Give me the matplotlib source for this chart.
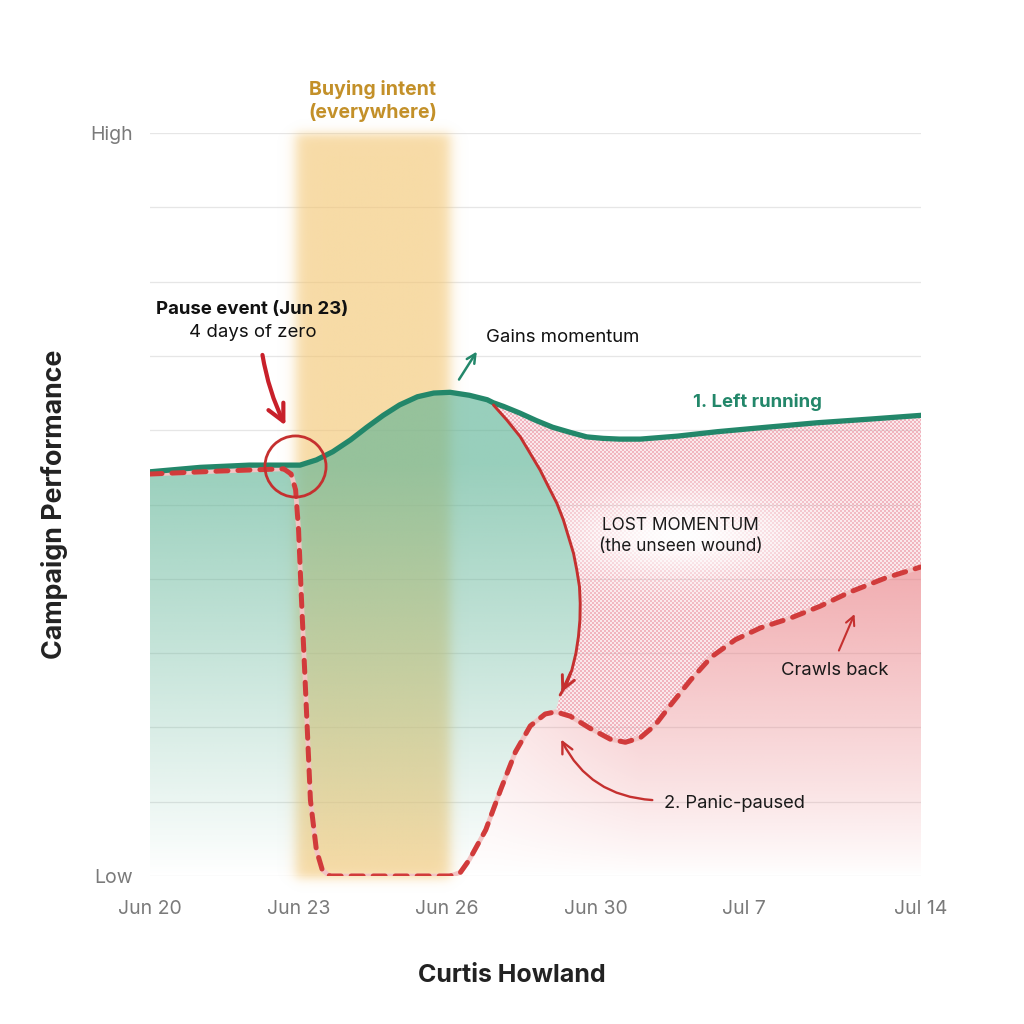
import numpy as np
import matplotlib
matplotlib.use('Agg')
import matplotlib.pyplot as plt
from matplotlib.patches import Polygon

plt.rcParams['font.family'] = ['Inter', 'DejaVu Sans']

# ---------------- data ----------------
tick_pos = [0, 1, 2, 3, 4, 5.19]
tick_labels = ['Jun 20', 'Jun 23', 'Jun 26', 'Jun 30', 'Jul 7', 'Jul 14']

# 1. Left running (solid green)
left_x = [0, 0.34, 0.67, 1.01, 1.12, 1.23, 1.35, 1.46, 1.57, 1.68, 1.80, 1.91, 2.02,
          2.15, 2.27, 2.31, 2.38, 2.49, 2.60, 2.71, 2.83, 2.94, 3.05, 3.16, 3.30, 3.55,
          3.82, 4.15, 4.49, 4.85, 5.19]
left_y = [5.44, 5.50, 5.53, 5.53, 5.60, 5.71, 5.87, 6.04, 6.20, 6.34, 6.45, 6.50, 6.51,
          6.47, 6.41, 6.37, 6.32, 6.23, 6.13, 6.04, 5.97, 5.91, 5.89, 5.88, 5.88, 5.92,
          5.98, 6.04, 6.10, 6.15, 6.20]

# 2. Panic-paused (dashed red)
paused_x = [0, 0.47, 0.90, 0.95, 0.98, 1.00, 1.02, 1.05, 1.08, 1.12, 1.16, 1.21, 2.02,
            2.09, 2.15, 2.26, 2.36, 2.46, 2.56, 2.66, 2.73, 2.83, 2.96, 3.10, 3.20, 3.30,
            3.40, 3.50, 3.64, 3.78, 3.94, 4.11, 4.31, 4.51, 4.71, 4.95, 5.19]
paused_y = [5.41, 5.45, 5.48, 5.41, 5.20, 4.66, 3.71, 2.37, 1.02, 0.35, 0.08, 0.0, 0.0,
            0.05, 0.22, 0.62, 1.16, 1.67, 2.02, 2.18, 2.21, 2.15, 1.99, 1.84, 1.80, 1.86,
            2.03, 2.29, 2.64, 2.95, 3.18, 3.34, 3.47, 3.63, 3.82, 4.01, 4.16]

# curved "wound" arrow from the green peak down to the red bump
wound_x = [2.312, 2.402, 2.492, 2.559, 2.626, 2.682, 2.739, 2.783, 2.817, 2.851, 2.873,
           2.891, 2.896, 2.894, 2.884, 2.867, 2.840, 2.806, 2.761]
wound_y = [6.339, 6.137, 5.913, 5.689, 5.464, 5.240, 5.016, 4.791, 4.567, 4.343, 4.118,
           3.894, 3.670, 3.445, 3.221, 2.997, 2.773, 2.594, 2.436]

band_start, band_end = 1.0, 2.0
circle_x, circle_y = 0.976, 5.52

GREEN = '#23876a'
RED = '#d13b3b'
DARKRED = '#c5302f'
GOLD = '#c39029'
GRAY = '#7a7a7a'

fig = plt.figure(figsize=(10.24, 10.24), dpi=100)
ax = fig.add_axes([150/1024, 148/1024, 771/1024, 743/1024])
XMAX = 5.19
ax.set_xlim(0, XMAX)
ax.set_ylim(0, 10)

for s in ax.spines.values():
    s.set_visible(False)
ax.set_yticks(range(11))
ax.set_yticklabels(['Low'] + [''] * 9 + ['High'])
ax.set_xticks(tick_pos)
ax.set_xticklabels(tick_labels)
ax.tick_params(length=0, labelsize=14, colors=GRAY)
ax.tick_params(axis='y', pad=12)
ax.tick_params(axis='x', pad=17)
ax.grid(axis='y', color='#e6e6e6', lw=0.9, zorder=0)
ax.set_axisbelow(True)

# ---------- yellow buying-intent band ----------
bu = np.linspace(0.7, 2.3, 400)
by = np.linspace(-0.3, 10.3, 300)
BU, BY = np.meshgrid(bu, by)
sig = lambda z: 0.5 * (1 + np.tanh(z))
ax_alpha = sig((BU - band_start + 0.02) / 0.05) * sig((band_end + 0.02 - BU) / 0.05)
ay_alpha = sig((10.0 - BY) / 0.08) * sig((BY + 0.05) / 0.08)
band = np.zeros(BU.shape + (4,))
band[..., 0] = 243 / 255
band[..., 1] = 197 / 255
band[..., 2] = 112 / 255
band[..., 3] = 0.62 * ax_alpha * ay_alpha
ax.imshow(band, extent=[0.7, 2.3, -0.3, 10.3], origin='lower', aspect='auto',
          interpolation='bilinear', zorder=1, clip_on=False)

# ---------- green fill (left running) ----------
lx = np.array(left_x); ly = np.array(left_y)
px_ = np.array(paused_x); py_ = np.array(paused_y)
m = lx <= 2.31
g_poly = list(zip(lx[m], ly[m])) + list(zip(wound_x, wound_y))
mm = (px_ >= 2.02) & (px_ <= 2.73)
g_poly += list(zip(px_[mm][::-1], py_[mm][::-1])) + [(0, 0)]
g_patch = Polygon(g_poly, closed=True, facecolor='none', edgecolor='none')
ax.add_patch(g_patch)
gu = np.linspace(0, 3.0, 10)
gy = np.linspace(0, 6.6, 300)
GU, GY = np.meshgrid(gu, gy)
gimg = np.zeros(GU.shape + (4,))
gimg[..., 0] = 95 / 255
gimg[..., 1] = 180 / 255
gimg[..., 2] = 150 / 255
gimg[..., 3] = np.clip(0.58 * (GY / 5.0) ** 0.95, 0, 0.64)
im = ax.imshow(gimg, extent=[0, 3.0, 0, 6.6], origin='lower', aspect='auto',
               interpolation='bilinear', zorder=2)
im.set_clip_path(g_patch)

# ---------- red fill (panic paused) ----------
mr = px_ >= 2.02
r_poly = list(zip(px_[mr], py_[mr])) + [(XMAX, 0), (2.02, 0)]
r_patch = Polygon(r_poly, closed=True, facecolor='none', edgecolor='none')
ax.add_patch(r_patch)
ru = np.linspace(2.0, XMAX, 200)
ry = np.linspace(0, 4.3, 200)
RU, RY = np.meshgrid(ru, ry)
rimg = np.zeros(RU.shape + (4,))
rimg[..., 0] = 232 / 255
rimg[..., 1] = 118 / 255
rimg[..., 2] = 124 / 255
xf = 0.45 + 0.55 * np.clip((RU - 2.3) / 1.0, 0, 1)
rimg[..., 3] = np.clip(0.58 * (RY / 4.0) ** 0.85, 0, 0.62) * xf
im2 = ax.imshow(rimg, extent=[2.0, XMAX, 0, 4.3], origin='lower', aspect='auto',
                interpolation='bilinear', zorder=2)
im2.set_clip_path(r_patch)

# ---------- hatched lost momentum ----------
ml = lx > 2.31
mp = px_ >= 2.73
h_poly = [(wound_x[0], wound_y[0])] + list(zip(lx[ml], ly[ml])) + \
         list(zip(px_[mp][::-1], py_[mp][::-1])) + list(zip(wound_x[::-1], wound_y[::-1]))
h_patch = Polygon(h_poly, closed=True, facecolor='none', edgecolor='none')
ax.add_patch(h_patch)
hu0, hu1, hy0, hy1 = 2.2, XMAX, 1.6, 6.7
W = int((hu1 - hu0) * 148.5) + 1
H = int((hy1 - hy0) * 74.3) + 1
HU, HY = np.meshgrid(np.linspace(hu0, hu1, W), np.linspace(hy0, hy1, H))
X = np.round(HU * 148.5)
Y = np.round(HY * 74.3)
chk = ((np.floor(X / 2) + np.floor(Y / 2)) % 2)
glow = np.exp(-((HU - 3.57) / 0.80) ** 2 - ((HY - 4.58) / 0.58) ** 2)
himg = np.zeros(HU.shape + (4,))
himg[..., 0] = 234 / 255
himg[..., 1] = 140 / 255
himg[..., 2] = 155 / 255
himg[..., 3] = (0.20 + 0.45 * chk) * (1 - 0.97 * glow)
im3 = ax.imshow(himg, extent=[hu0, hu1, hy0, hy1], origin='lower', aspect='auto',
                interpolation='nearest', zorder=3)
im3.set_clip_path(h_patch)

# ---------- lines ----------
ax.plot(paused_x, paused_y, color='#f2c4c4', lw=3.4, zorder=5, solid_capstyle='round')
ax.plot(left_x, left_y, color=GREEN, lw=3.8, zorder=6, solid_capstyle='round',
        solid_joinstyle='round')
ax.plot(paused_x, paused_y, color=RED, lw=3.6, zorder=7, dashes=(2.4, 2.0),
        dash_capstyle='round', dash_joinstyle='round')
ax.plot(wound_x, wound_y, color=DARKRED, lw=2.1, zorder=7, solid_capstyle='round',
        solid_joinstyle='round')
ax.annotate('', xy=(wound_x[-1], wound_y[-1]), xytext=(wound_x[-3], wound_y[-3]),
            arrowprops=dict(arrowstyle='->', color=DARKRED, lw=2.1, mutation_scale=24),
            zorder=7)

# pause circle
ax.plot([circle_x], [circle_y], marker='o', ms=44, mfc='none', mec=DARKRED, mew=2.0,
        zorder=8)

# ---------- annotation arrows ----------
ax.annotate('', xy=(0.92, 6.03), xytext=(0.754, 7.05),
            arrowprops=dict(arrowstyle='->', color='#c8202a', lw=3.0, mutation_scale=30,
                            connectionstyle='arc3,rad=0.08'), zorder=9)
ax.annotate('', xy=(2.21, 7.09), xytext=(2.07, 6.65),
            arrowprops=dict(arrowstyle='->', color=GREEN, lw=1.8, mutation_scale=16), zorder=9)
ax.annotate('', xy=(4.75, 3.56), xytext=(4.63, 3.0),
            arrowprops=dict(arrowstyle='->', color=DARKRED, lw=1.5, mutation_scale=16), zorder=9)
ax.annotate('', xy=(2.76, 1.87), xytext=(3.40, 1.02),
            arrowprops=dict(arrowstyle='->', color=DARKRED, lw=1.7, mutation_scale=20,
                            connectionstyle='arc3,rad=-0.3'), zorder=9)

# ---------- texts ----------
ax.text(1.50, 10.58, 'Buying intent', ha='center', va='center', fontsize=14,
        fontweight='bold', color=GOLD, clip_on=False)
ax.text(1.50, 10.28, '(everywhere)', ha='center', va='center', fontsize=14,
        fontweight='bold', color=GOLD, clip_on=False)
ax.text(0.69, 7.62, 'Pause event (Jun 23)', ha='center', va='center', fontsize=13.4,
        fontweight='bold', color='#111111', zorder=10)
ax.text(0.69, 7.32, '4 days of zero', ha='center', va='center', fontsize=13.4,
        color='#111111', zorder=10)
ax.text(2.26, 7.25, 'Gains momentum', ha='left', va='center', fontsize=13.4,
        color='#111111', zorder=10)
ax.text(4.09, 6.38, '1. Left running', ha='center', va='center', fontsize=13.4,
        fontweight='bold', color=GREEN, zorder=10)
ax.text(3.57, 4.72, 'LOST MOMENTUM', ha='center', va='center', fontsize=12.4,
        color='#1a1a1a', zorder=10)
ax.text(3.57, 4.43, '(the unseen wound)', ha='center', va='center', fontsize=12.4,
        color='#1a1a1a', zorder=10)
ax.text(4.61, 2.76, 'Crawls back', ha='center', va='center', fontsize=13.3,
        color='#1a1a1a', zorder=10)
ax.text(3.46, 0.97, '2. Panic-paused', ha='left', va='center', fontsize=13.2,
        color='#1a1a1a', zorder=10)

fig.text(512/1024, 1 - 975/1024, 'Curtis Howland', ha='center', va='center',
         fontsize=18, fontweight='bold', color='#222222')
fig.text(55/1024, 1 - 504/1024, 'Campaign Performance', ha='center', va='center',
         rotation=90, fontsize=19.3, fontweight='bold', color='#222222')

fig.savefig('out.png', dpi=100, facecolor='white')
